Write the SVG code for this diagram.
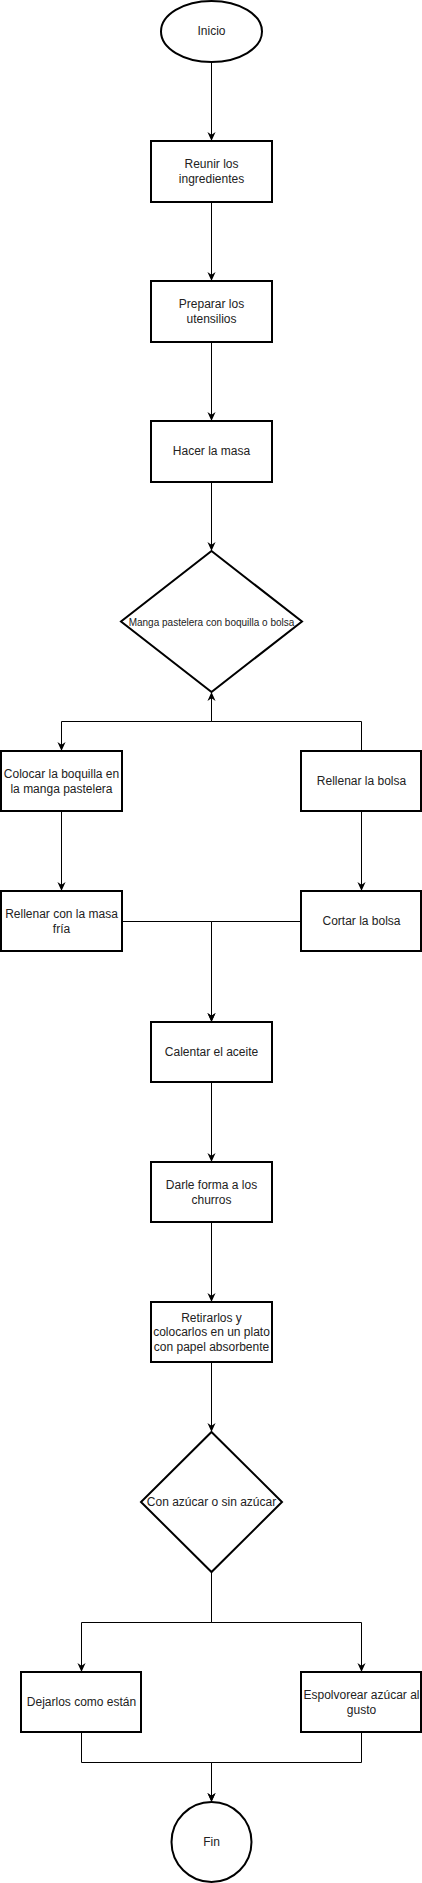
<svg xmlns="http://www.w3.org/2000/svg" width="422" height="1883" viewBox="0 0 422 1883">
<style>
.n{fill:#fff;stroke:#000;stroke-width:2}
.t{font-family:"Liberation Sans",Arial,Helvetica,sans-serif;font-size:12px;fill:#222;text-anchor:middle;dominant-baseline:central}
.s{font-size:10px}
.c{fill:none;stroke:#000;stroke-width:1}
</style>
<defs>
<marker id="a" markerUnits="userSpaceOnUse" markerWidth="9" markerHeight="9" viewBox="0 0 10 10" refX="10" refY="5" orient="auto">
<path d="M0,0.5 L10,5 L0,9.5 L3,5 z" fill="#000"/>
</marker>
</defs>
<rect width="422" height="1883" fill="#fff"/>
<g id="connectors">
<path class="c" d="M211.5,62 V141" marker-end="url(#a)"/>
<path class="c" d="M211.5,202 V281" marker-end="url(#a)"/>
<path class="c" d="M211.5,342 V421" marker-end="url(#a)"/>
<path class="c" d="M211.5,482 V551" marker-end="url(#a)"/>
<path class="c" d="M211.5,692 V721.5 H61.5 V751" marker-end="url(#a)"/>
<path class="c" d="M361.5,751 V721.5 H211.5 V692" marker-end="url(#a)"/>
<path class="c" d="M61.5,811 V891" marker-end="url(#a)"/>
<path class="c" d="M361.5,811 V891" marker-end="url(#a)"/>
<path class="c" d="M122,921.5 H211.5 V1022" marker-end="url(#a)"/>
<path class="c" d="M301,921.5 H211.5 V1022" marker-end="url(#a)"/>
<path class="c" d="M211.5,1082 V1162" marker-end="url(#a)"/>
<path class="c" d="M211.5,1222 V1302" marker-end="url(#a)"/>
<path class="c" d="M211.5,1362 V1432" marker-end="url(#a)"/>
<path class="c" d="M211.5,1572 V1622.5 H81.5 V1672" marker-end="url(#a)"/>
<path class="c" d="M211.5,1572 V1622.5 H361.5 V1672" marker-end="url(#a)"/>
<path class="c" d="M81.5,1732 V1762.5 H211.5 V1802" marker-end="url(#a)"/>
<path class="c" d="M361.5,1732 V1762.5 H211.5 V1802" marker-end="url(#a)"/>
</g>
<g id="inicio"><ellipse class="n" cx="211.5" cy="31.5" rx="50.5" ry="30.5"/><text class="t" x="211.5" y="31">Inicio</text></g>
<g id="reunir"><rect class="n" x="151" y="141" width="121" height="61"/><text class="t" x="211.5" y="164">Reunir los</text><text class="t" x="211.5" y="179">ingredientes</text></g>
<g id="preparar"><rect class="n" x="151" y="281" width="121" height="61"/><text class="t" x="211.5" y="304">Preparar los</text><text class="t" x="211.5" y="319">utensilios</text></g>
<g id="hacer"><rect class="n" x="151" y="421" width="121" height="61"/><text class="t" x="211.5" y="451">Hacer la masa</text></g>
<g id="decision1"><path class="n" d="M211.5,551 L302,621.5 L211.5,692 L121,621.5 Z"/><text class="t s" x="211.5" y="622">Manga pastelera con boquilla o bolsa</text></g>
<g id="colocar"><rect class="n" x="1" y="751" width="121" height="60"/><text class="t" x="61.5" y="774">Colocar la boquilla en</text><text class="t" x="61.5" y="789">la manga pastelera</text></g>
<g id="rellenar-bolsa"><rect class="n" x="301" y="751" width="120" height="60"/><text class="t" x="361.5" y="780.5">Rellenar la bolsa</text></g>
<g id="rellenar-masa"><rect class="n" x="1" y="891" width="121" height="60"/><text class="t" x="61.5" y="914">Rellenar con la masa</text><text class="t" x="61.5" y="929">fría</text></g>
<g id="cortar"><rect class="n" x="301" y="891" width="120" height="60"/><text class="t" x="361.5" y="920.5">Cortar la bolsa</text></g>
<g id="calentar"><rect class="n" x="151" y="1022" width="121" height="60"/><text class="t" x="211.5" y="1051.5">Calentar el aceite</text></g>
<g id="darle"><rect class="n" x="151" y="1162" width="121" height="60"/><text class="t" x="211.5" y="1185">Darle forma a los</text><text class="t" x="211.5" y="1200">churros</text></g>
<g id="retirar"><rect class="n" x="151" y="1302" width="121" height="60"/><text class="t" x="211.5" y="1317.5">Retirarlos y</text><text class="t" x="211.5" y="1332">colocarlos en un plato</text><text class="t" x="211.5" y="1347">con papel absorbente</text></g>
<g id="decision2"><path class="n" d="M211.5,1432 L282,1502 L211.5,1572 L141,1502 Z"/><text class="t" x="211.5" y="1502">Con azúcar o sin azúcar</text></g>
<g id="dejarlos"><rect class="n" x="21" y="1672" width="120" height="60"/><text class="t" x="81.5" y="1702">Dejarlos como están</text></g>
<g id="espolvorear"><rect class="n" x="301" y="1672" width="120" height="60"/><text class="t" x="361.5" y="1695">Espolvorear azúcar al</text><text class="t" x="361.5" y="1710">gusto</text></g>
<g id="fin"><circle class="n" cx="211.5" cy="1842" r="40"/><text class="t" x="211.5" y="1842">Fin</text></g>
</svg>
